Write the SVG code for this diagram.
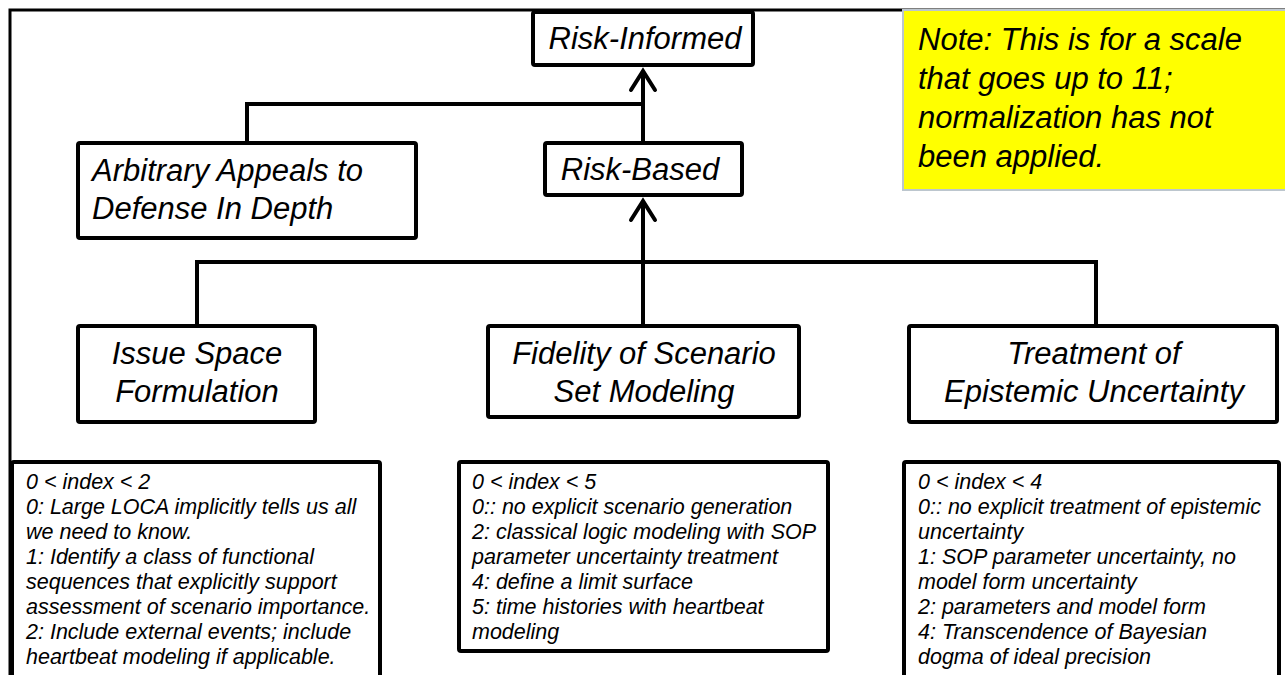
<svg xmlns="http://www.w3.org/2000/svg" width="1285" height="675" viewBox="0 0 1285 675">
<style>
.box{fill:#fff;stroke:#000;stroke-width:4;stroke-linejoin:round}
.note{fill:#ffff00;stroke:#bcc6ce;stroke-width:2}
.h{font-family:"Liberation Sans",Arial,sans-serif;font-style:italic;font-size:31px;fill:#000}
.c{text-anchor:middle}
.b{font-family:"Liberation Sans",Arial,sans-serif;font-style:italic;font-size:21.5px;fill:#000}
.con{fill:none;stroke:#000;stroke-width:4;stroke-linejoin:miter}
.frame{fill:none;stroke:#000;stroke-width:3}
</style>
<defs>
<marker id="arr" markerUnits="userSpaceOnUse" markerWidth="40" markerHeight="40" refX="0" refY="0" orient="auto" overflow="visible" viewBox="-30 -20 40 40">
<path d="M-19,-12 L0,0 L-19,12" fill="none" stroke="#000" stroke-width="4" stroke-linecap="round" stroke-linejoin="miter"/>
</marker>
</defs>
<rect width="1285" height="675" fill="#fff"/>
<path class="frame" d="M10,675 V10 H1285"/>
<g id="connectors">
<path class="con" d="M247,143 V104 H643"/>
<path class="con" d="M643,143 V71" marker-end="url(#arr)"/>
<path class="con" d="M643,326 V201" marker-end="url(#arr)"/>
<path class="con" d="M197,326 V262 H1096 V326"/>
</g>
<g id="note">
<rect class="note" x="903" y="10" width="400" height="180"/>
<text class="h" x="918" y="50">Note: This is for a scale</text>
<text class="h" x="918" y="89">that goes up to 11;</text>
<text class="h" x="918" y="128">normalization has not</text>
<text class="h" x="918" y="167">been applied.</text>
</g>
<g id="risk-informed">
<rect class="box" x="533" y="12" width="220" height="53" rx="2"/>
<text class="h c" x="645" y="49">Risk-Informed</text>
</g>
<g id="risk-based">
<rect class="box" x="545" y="143" width="197" height="52" rx="2"/>
<text class="h c" x="640" y="180">Risk-Based</text>
</g>
<g id="arbitrary">
<rect class="box" x="78" y="143" width="338" height="95" rx="2"/>
<text class="h" x="92" y="181">Arbitrary Appeals to</text>
<text class="h" x="92" y="219">Defense In Depth</text>
</g>
<g id="issue-space">
<rect class="box" x="78" y="326" width="237" height="96" rx="2"/>
<text class="h c" x="197" y="364">Issue Space</text>
<text class="h c" x="197" y="402">Formulation</text>
</g>
<g id="fidelity">
<rect class="box" x="488" y="326" width="311" height="91" rx="2"/>
<text class="h c" x="644" y="364">Fidelity of Scenario</text>
<text class="h c" x="644" y="402">Set Modeling</text>
</g>
<g id="treatment">
<rect class="box" x="909" y="326" width="368" height="96" rx="2"/>
<text class="h c" x="1094" y="364">Treatment of</text>
<text class="h c" x="1094" y="402">Epistemic Uncertainty</text>
</g>
<g id="issue-scale">
<rect class="box" x="12" y="462" width="368" height="230" rx="2"/>
<text class="b" x="26" y="489">0 &lt; index &lt; 2</text>
<text class="b" x="26" y="514">0: Large LOCA implicitly tells us all</text>
<text class="b" x="26" y="539">we need to know.</text>
<text class="b" x="26" y="564">1: Identify a class of functional</text>
<text class="b" x="26" y="589">sequences that explicitly support</text>
<text class="b" x="26" y="614">assessment of scenario importance.</text>
<text class="b" x="26" y="639">2: Include external events; include</text>
<text class="b" x="26" y="664">heartbeat modeling if applicable.</text>
</g>
<g id="fidelity-scale">
<rect class="box" x="459" y="462" width="369" height="189" rx="2"/>
<text class="b" x="472" y="489">0 &lt; index &lt; 5</text>
<text class="b" x="472" y="514">0:: no explicit scenario generation</text>
<text class="b" x="472" y="539">2: classical logic modeling with SOP</text>
<text class="b" x="472" y="564">parameter uncertainty treatment</text>
<text class="b" x="472" y="589">4: define a limit surface</text>
<text class="b" x="472" y="614">5: time histories with heartbeat</text>
<text class="b" x="472" y="639">modeling</text>
</g>
<g id="treatment-scale">
<rect class="box" x="904" y="462" width="375" height="230" rx="2"/>
<text class="b" x="918" y="489">0 &lt; index &lt; 4</text>
<text class="b" x="918" y="514">0:: no explicit treatment of epistemic</text>
<text class="b" x="918" y="539">uncertainty</text>
<text class="b" x="918" y="564">1: SOP parameter uncertainty, no</text>
<text class="b" x="918" y="589">model form uncertainty</text>
<text class="b" x="918" y="614">2: parameters and model form</text>
<text class="b" x="918" y="639">4: Transcendence of Bayesian</text>
<text class="b" x="918" y="664">dogma of ideal precision</text>
</g>
</svg>
